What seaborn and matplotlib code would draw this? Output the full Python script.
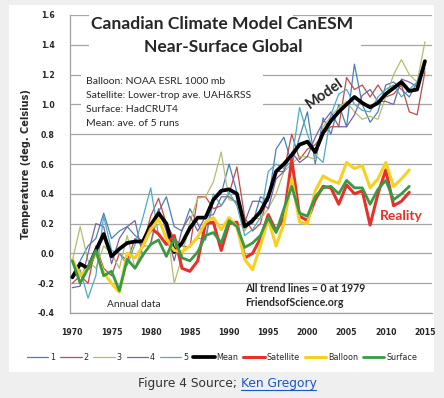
import numpy as np
import pandas as pd
import matplotlib
matplotlib.use("Agg")
import matplotlib.pyplot as plt
from matplotlib.patches import Rectangle
from matplotlib.lines import Line2D
import seaborn as sns

# %% data
years = list(range(1970, 2016))
sat_years = list(range(1979, 2014))
obs_years = list(range(1970, 2014))

run1 = [-0.15, -0.05, 0.05, 0.10, 0.27, 0.10, 0.15, 0.18, 0.12, 0.08,
        0.14, 0.28, 0.38, 0.18, 0.15, 0.30, 0.20, 0.09, 0.36, 0.40,
        0.60, 0.41, 0.18, 0.20, 0.38, 0.35, 0.70, 0.78, 0.60, 0.78,
        0.95, 0.60, 0.91, 0.80, 1.00, 0.85, 1.27, 1.00, 0.88, 0.95,
        1.13, 1.15, 1.10, 1.05, 1.15, 1.29]
run2 = [-0.20, -0.15, -0.20, 0.05, -0.10, -0.15, 0.00, -0.05, 0.10, 0.05,
        0.25, 0.37, 0.20, 0.10, 0.05, 0.04, 0.38, 0.38, 0.30, 0.32,
        0.40, 0.58, 0.24, 0.15, 0.20, 0.40, 0.55, 0.55, 0.80, 0.63,
        0.70, 0.73, 0.80, 0.85, 0.85, 1.18, 1.10, 1.13, 1.05, 1.13,
        1.05, 1.07, 1.13, 0.95, 0.93, 1.22]
run3 = [-0.05, 0.18, -0.05, -0.10, 0.05, 0.00, -0.10, 0.12, -0.10, 0.05,
        0.05, 0.28, 0.20, -0.20, -0.02, 0.21, 0.37, 0.38, 0.48, 0.68,
        0.36, 0.35, 0.15, 0.24, 0.23, 0.30, 0.40, 0.55, 0.60, 0.65,
        0.65, 0.63, 0.85, 0.92, 0.98, 1.02, 0.95, 0.90, 0.92, 0.90,
        1.05, 1.20, 1.30, 1.20, 1.15, 1.42]
run4 = [-0.23, -0.22, 0.00, 0.20, 0.18, -0.07, 0.10, 0.18, 0.22, -0.02,
        0.07, 0.30, 0.15, -0.05, 0.16, 0.25, 0.15, 0.25, 0.26, 0.38,
        0.38, 0.34, 0.21, 0.35, 0.35, 0.30, 0.50, 0.55, 0.68, 0.61,
        0.65, 0.78, 0.88, 0.95, 0.85, 0.85, 0.93, 1.06, 1.10, 1.02,
        1.02, 1.00, 1.17, 1.15, 1.12, 1.24]
run5 = [-0.17, -0.11, -0.30, -0.15, 0.25, 0.02, 0.00, -0.08, 0.06, 0.24,
        0.44, 0.12, 0.07, 0.02, 0.01, 0.05, 0.10, 0.10, 0.40, 0.32,
        0.41, 0.32, 0.12, 0.16, 0.24, 0.55, 0.60, 0.57, 0.62, 0.98,
        0.80, 0.66, 0.61, 0.93, 1.07, 1.10, 1.00, 0.96, 0.95, 1.05,
        1.10, 1.13, 1.05, 1.10, 1.15, 1.28]
mean = [-0.16, -0.07, -0.10, 0.02, 0.13, -0.02, 0.03, 0.07, 0.08, 0.08,
        0.19, 0.27, 0.20, 0.01, 0.07, 0.17, 0.24, 0.24, 0.36, 0.42,
        0.43, 0.40, 0.18, 0.22, 0.28, 0.38, 0.55, 0.60, 0.66, 0.73,
        0.75, 0.68, 0.81, 0.89, 0.95, 1.00, 1.05, 1.01, 0.98, 1.01,
        1.07, 1.11, 1.15, 1.09, 1.10, 1.29]
satellite = [0.05, 0.17, 0.13, 0.06, 0.12, -0.10, -0.12, -0.05, 0.20, 0.21,
             0.02, 0.20, 0.21, -0.03, 0.00, 0.10, 0.26, 0.15, 0.24, 0.63,
             0.25, 0.22, 0.36, 0.45, 0.44, 0.33, 0.46, 0.40, 0.42, 0.19,
             0.40, 0.56, 0.32, 0.35, 0.41]
balloon = [-0.04, -0.15, -0.10, 0.01, -0.13, -0.20, -0.26, 0.00, -0.03, 0.05,
           0.16, 0.23, 0.10, 0.02, 0.01, 0.05, 0.11, 0.21, 0.24, 0.16,
           0.24, 0.18, -0.04, -0.11, 0.05, 0.23, 0.05, 0.20, 0.50, 0.21,
           0.20, 0.42, 0.52, 0.49, 0.47, 0.61, 0.57, 0.59, 0.44, 0.50,
           0.61, 0.45, 0.50, 0.56]
surface = [-0.05, -0.20, -0.10, 0.02, -0.15, -0.12, -0.25, -0.04, -0.10, -0.01,
           0.06, 0.09, -0.02, 0.10, -0.03, -0.05, 0.01, 0.12, 0.14, 0.07,
           0.22, 0.18, 0.04, 0.07, 0.12, 0.24, 0.14, 0.30, 0.45, 0.27,
           0.25, 0.38, 0.44, 0.45, 0.40, 0.49, 0.44, 0.44, 0.33, 0.43,
           0.49, 0.36, 0.40, 0.45]

y_ticks = [-0.4, -0.2, 0.0, 0.2, 0.4, 0.6, 0.8, 1.0, 1.2, 1.4, 1.6]
x_ticks = [1970, 1975, 1980, 1985, 1990, 1995, 2000, 2005, 2010, 2015]

# (label, x, y, colour, width)
series = [
    ("1", years, run1, "#4a7ebb", 0.9),
    ("2", years, run2, "#be4b48", 0.9),
    ("3", years, run3, "#b5bd6c", 0.9),
    ("4", years, run4, "#7a63a0", 0.9),
    ("5", years, run5, "#4bacc6", 0.9),
    ("Mean", years, mean, "black", 2.7),
    ("Satellite", sat_years, satellite, "#e5302c", 2.2),
    ("Balloon", obs_years, balloon, "#f6d11f", 2.2),
    ("Surface", obs_years, surface, "#3a9a44", 2.0),
]

# %% figure
sns.set_style("white")
plt.rcParams["font.family"] = ["DejaVu Sans"]

W, H = 444, 398
fig = plt.figure(figsize=(W / 100, H / 100), dpi=100, facecolor="#efefef")
fig.patches.append(Rectangle((9 / W, 1 - 372 / H), (434 - 9) / W, (372 - 5) / H,
                             transform=fig.transFigure, facecolor="white",
                             edgecolor="none", zorder=-5))
ax = fig.add_axes([70 / W, 1 - 313 / H, (432 - 70) / W, (313 - 15) / H])
ax.set_zorder(2)
ax.set_facecolor("none")

for i, (name, xs, ys, col, lw) in enumerate(series):
    sns.lineplot(x=xs, y=ys, ax=ax, color=col, linewidth=lw, label=name,
                 zorder=3 + i * 0.1)

ax.set_xlim(1969.7, 2015.9)
ax.set_ylim(-0.4, 1.6)
ax.set_yticks(y_ticks)
ax.set_yticklabels([f"{v:.1f}" for v in y_ticks], fontsize=5.6, fontweight="bold")
ax.set_xticks(x_ticks)
ax.set_xticklabels([str(v) for v in x_ticks], fontsize=5.6, fontweight="bold")
ax.set_xticks(years, minor=True)
ax.tick_params(axis="y", length=0, pad=11)
ax.tick_params(axis="x", which="both", direction="inout", length=4, width=0.8,
               color="#a0a0a0", pad=9)
ax.grid(axis="y", color="#a6a6a6", linewidth=0.9)
ax.set_axisbelow(True)
for s in ["top", "right"]:
    ax.spines[s].set_visible(False)
for s in ["left", "bottom"]:
    ax.spines[s].set_color("#a0a0a0")
    ax.spines[s].set_linewidth(0.9)
ax.set_xlabel("")
ax.set_ylabel("")

# white boxes behind the text blocks (they hide the grid)
ax.add_patch(Rectangle((1972.1, 1.52), 26.0, 0.12, facecolor="white", edgecolor="none", zorder=1))
ax.add_patch(Rectangle((1972.1, 1.30), 34.7, 0.22, facecolor="white", edgecolor="none", zorder=1))
ax.add_patch(Rectangle((1971.1, 0.86), 23.2, 0.43, facecolor="white", edgecolor="none", zorder=1))

# titles and notes
fig.text(222 / W, 1 - 24 / H, "Canadian Climate Model CanESM", ha="center", va="center",
         fontsize=12.6, fontweight="bold", family="Lato", zorder=5)
fig.text(223 / W, 1 - 47 / H, "Near-Surface Global", ha="center", va="center",
         fontsize=12.6, fontweight="bold", family="Lato", zorder=5)
notes = ["Balloon: NOAA ESRL 1000 mb", "Satellite: Lower-trop ave. UAH&RSS",
         "Surface: HadCRUT4", "Mean: ave. of 5 runs"]
for k, t in enumerate(notes):
    fig.text(86 / W, 1 - (81 + 14 * k) / H, t, ha="left", va="center",
             fontsize=7.5, family="Lato", zorder=5)

ax.text(2002.2, 1.07, "Model", rotation=35, ha="center", va="center",
        fontsize=10.5, fontweight="bold", family="Lato", zorder=6)
ax.text(2012.0, 0.25, "Reality", ha="center", va="center", color="#e5302c",
        fontsize=10, fontweight="bold", family="Lato", zorder=6)
ax.text(1992.0, -0.235, "All trend lines = 0 at 1979", ha="left", va="center",
        fontsize=7.6, fontweight="bold", family="Lato", zorder=6)
ax.text(1992.0, -0.33, "FriendsofScience.org", ha="left", va="center",
        fontsize=7.6, fontweight="bold", family="Lato", zorder=6)
ax.text(1974.4, -0.345, "Annual data", ha="left", va="center",
        fontsize=7.3, family="Lato", zorder=6)

fig.text(26 / W, 1 - 164 / H, "Temperature (deg. Celsius)", rotation=90,
         ha="center", va="center", fontsize=7, fontweight="bold")

# legend
ax.legend(loc="center", bbox_to_anchor=(222 / W, 1 - 357 / H), bbox_transform=fig.transFigure,
          ncol=9, frameon=False, fontsize=5.8, handlelength=2.65, handletextpad=0.25,
          columnspacing=0.6, borderaxespad=0)

# caption
fig.text(237 / W, 1 - 383 / H, "Figure 4 Source;", ha="right", va="center",
         fontsize=8.8, color="#333333")
fig.text(241 / W, 1 - 383 / H, "Ken Gregory", ha="left", va="center",
         fontsize=8.8, color="#1a55c8")
fig.add_artist(Line2D([241 / W, 316 / W], [1 - 390 / H, 1 - 390 / H],
                      transform=fig.transFigure, color="#1a55c8", linewidth=0.8))

fig.savefig("out.png", dpi=100, facecolor=fig.get_facecolor())
